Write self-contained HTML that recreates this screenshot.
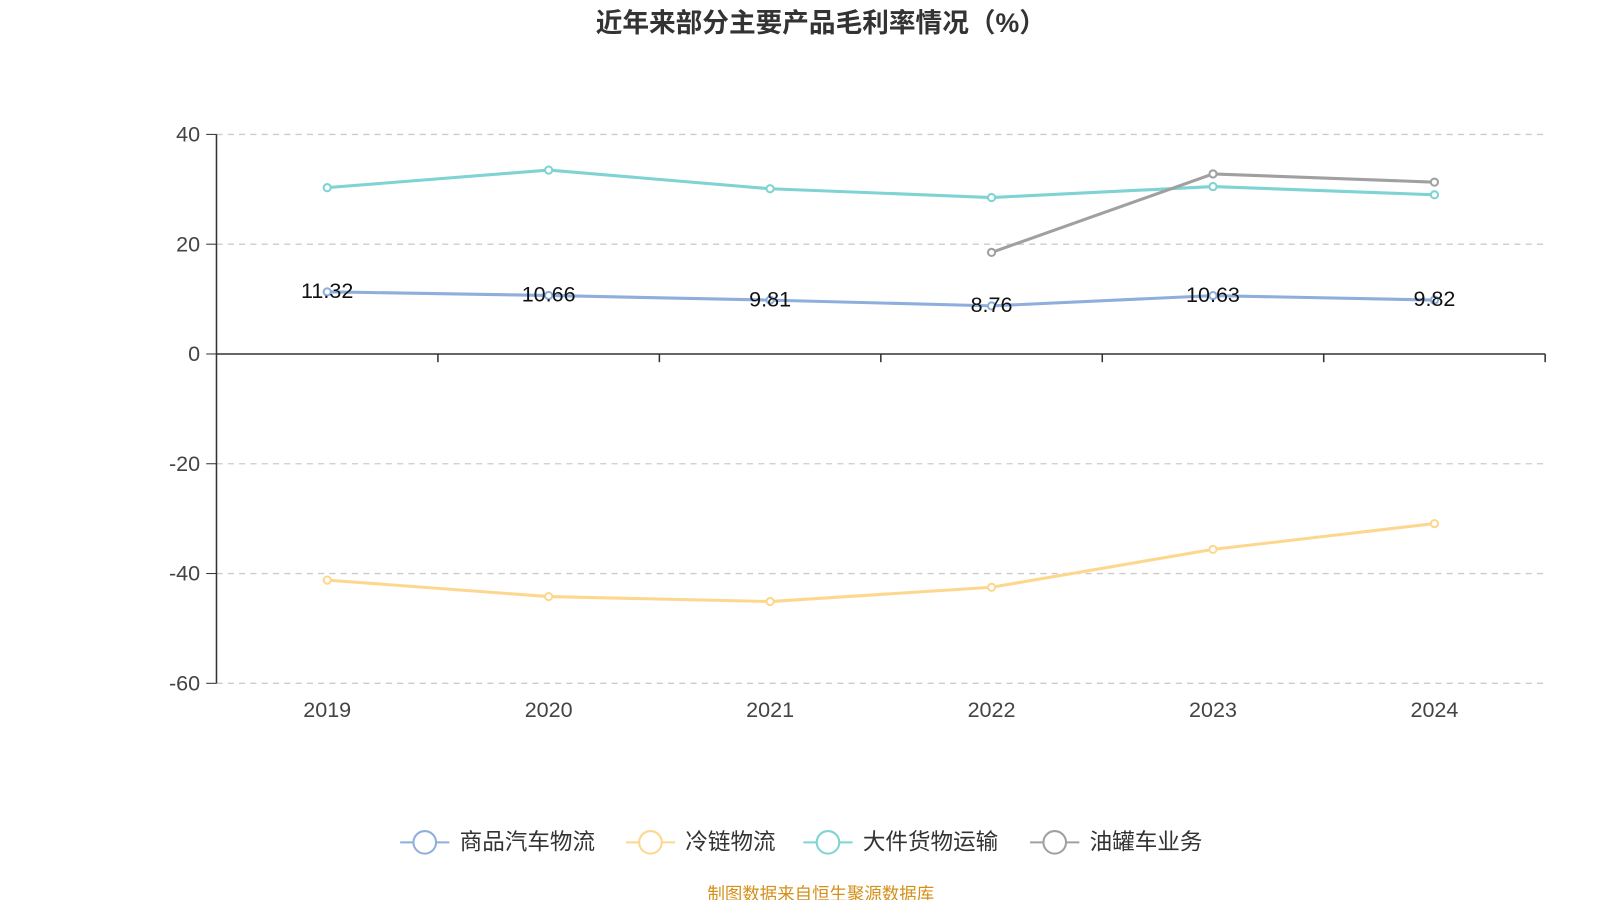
<!DOCTYPE html>
<html><head><meta charset="utf-8"><style>
body{margin:0;background:#fff;width:1600px;height:900px;overflow:hidden;font-family:"Liberation Sans","Noto Sans CJK SC",sans-serif}
</style></head><body>
<svg id="c" width="1600" height="900" xmlns="http://www.w3.org/2000/svg">
<g transform="scale(1.026)">
<text x="800" y="31" text-anchor="middle" font-size="26" font-weight="bold" fill="#333" font-family="Liberation Sans, Noto Sans CJK SC, sans-serif">近年来部分主要产品毛利率情况（%）</text>
<g id="grid"></g><g id="axes"></g><g id="series"></g><g id="legend"></g>
<text x="800" y="877" text-anchor="middle" font-size="17" fill="#d4901b" font-family="Liberation Sans, Noto Sans CJK SC, sans-serif">制图数据来自恒生聚源数据库</text>
</g>
</svg>
<script>
const categories=["2019","2020","2021","2022","2023","2024"];
const yTicks=[40,20,0,-20,-40,-60];
const seriesNames=["商品汽车物流","冷链物流","大件货物运输","油罐车业务"];
const seriesColors=["#8eaedc","#fdd78e","#7fd3d3","#a0a0a0"];
const s1=[11.32,10.66,9.81,8.76,10.63,9.82];
const s2=[-41.2,-44.2,-45.1,-42.5,-35.6,-30.9];
const s3=[30.3,33.5,30.1,28.5,30.5,29.0];
const s4=[null,null,null,18.5,32.8,31.3];
const s1Labels=["11.32","10.66","9.81","8.76","10.63","9.82"];
const allSeries=[s1,s2,s3,s4];
const NS="http://www.w3.org/2000/svg";
const L=211,R=1506,T=131,B=666,ymin=-60,ymax=40;
const band=(R-L)/categories.length;
const x=i=>L+band*(i+0.5);
const y=v=>B-(v-ymin)/(ymax-ymin)*(B-T);
function mk(tag,attrs,parent,txt){const e=document.createElementNS(NS,tag);for(const k in attrs)e.setAttribute(k,attrs[k]);if(txt!=null)e.textContent=txt;parent.appendChild(e);return e;}
const grid=document.getElementById('grid'),axes=document.getElementById('axes'),ser=document.getElementById('series'),leg=document.getElementById('legend');
const F="Liberation Sans, Noto Sans CJK SC, sans-serif";
yTicks.forEach(t=>{
 if(t!==0){const g=mk('line',{x1:L,x2:R,y1:y(t),y2:y(t),stroke:'#ccc','stroke-dasharray':'6,5','stroke-width':1.3},grid);
 
 }
 const tk=mk('line',{x1:L-10,x2:L,y1:y(t),y2:y(t),stroke:'#333'},axes);
 
 
 const lb=mk('text',{x:L-16,y:y(t)+7,'text-anchor':'end','font-size':21,fill:'#444','font-family':F},axes,String(t));
 
 
});
const ya=mk('line',{x1:L,x2:L,y1:T,y2:B,stroke:'#333','stroke-width':1.5},axes);


const xa=mk('line',{x1:L,x2:R,y1:y(0),y2:y(0),stroke:'#333','stroke-width':1.5},axes);


for(let i=1;i<=categories.length;i++){const t=mk('line',{x1:L+band*i,x2:L+band*i,y1:y(0),y2:y(0)+8,stroke:'#333','stroke-width':1.5},axes);
 
 }
categories.forEach((c,i)=>{const t=mk('text',{x:x(i),y:699,'text-anchor':'middle','font-size':21,fill:'#444','font-family':F},axes,c);
 
 });
allSeries.forEach((s,k)=>{
 let d='';s.forEach((v,i)=>{if(v==null)return;d+=(d?'L':'M')+x(i)+','+y(v);});
 const p=mk('path',{d:d,fill:'none',stroke:seriesColors[k],'stroke-width':3},ser);
 
 
 s.forEach((v,i)=>{if(v==null)return;const c=mk('circle',{cx:x(i),cy:y(v),r:3.5,fill:'#fff',stroke:seriesColors[k],'stroke-width':2},ser);
  
  });
});
s1.forEach((v,i)=>{const t=mk('text',{x:x(i),y:y(v)+6,'text-anchor':'middle','font-size':21,fill:'#111','font-family':F},ser,s1Labels[i]);
 
 });
const lx=[390,610,783,1004];
seriesNames.forEach((n,k)=>{
 const g=mk('g',{},leg);
 
 
 mk('line',{x1:lx[k],x2:lx[k]+48,y1:821,y2:821,stroke:seriesColors[k],'stroke-width':2},g);
 mk('circle',{cx:lx[k]+24,cy:821,r:11,fill:'#fff',stroke:seriesColors[k],'stroke-width':2},g);
 mk('text',{x:lx[k]+58,y:828,'font-size':22,fill:'#333','font-family':F},g,n);
});
</script>
</body></html>
